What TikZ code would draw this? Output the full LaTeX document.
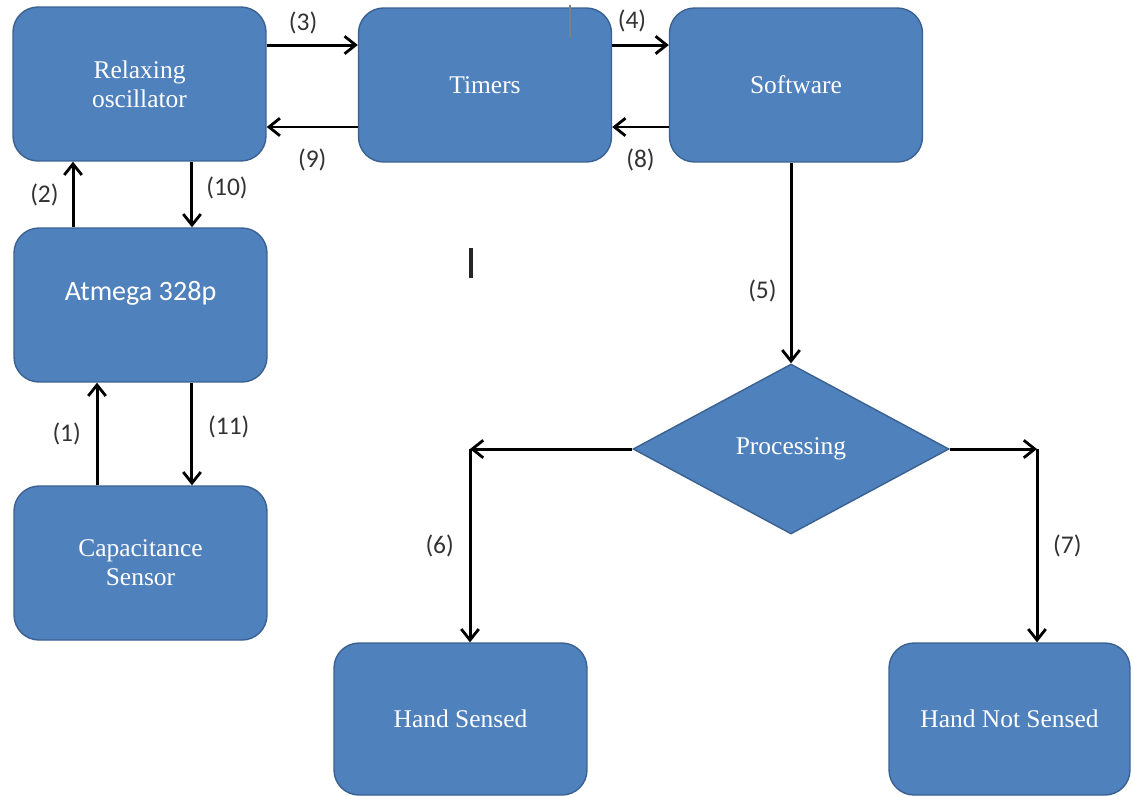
\documentclass[tikz,border=0pt]{standalone}
\usepackage{fontspec}
\setmainfont{Liberation Serif}
\newfontfamily\calibri{Carlito}
\usetikzlibrary{shapes.geometric,arrows.meta}

\definecolor{boxblue}{HTML}{4F81BD}
\definecolor{boxline}{HTML}{3A6192}

\begin{document}
\begin{tikzpicture}[x=0.02cm,y=-0.02cm,
	block/.style={draw=boxline,line width=0.8pt,fill=boxblue,rounded corners=0.5cm,
		minimum width=5.06cm,minimum height=3.08cm,text=white,align=center,
		font=\fontsize{14.5}{16.5}\selectfont},
	decision/.style={diamond,draw=boxline,line width=0.8pt,fill=boxblue,inner sep=0pt,
		minimum width=6.32cm,minimum height=3.4cm,text=white,
		font=\fontsize{14.5}{16.5}\selectfont},
	arr/.style={line width=1.7pt,-{Straight Barb[length=2.2mm,width=3.5mm,line width=1.6pt]}},
	num/.style={font=\calibri\fontsize{14.5}{16}\selectfont,text=black!80}]
			\useasboundingbox (0,0) rectangle (1135,796);
			
			% blocks
			\node[block] (osc) at (139.5,84) {Relaxing\\oscillator};
			\node[block] (timers) at (485,85) {Timers};
			\node[block] (soft) at (796,85) {Software};
			\node[block,font=\calibri\fontsize{16}{18}\selectfont,text depth=0.55cm] (atmega) at (140.5,305) {Atmega 328p};
			\node[block] (sensor) at (140.5,563) {Capacitance\\Sensor};
			\node[decision] (proc) at (791,449) {Processing};
			\node[block,minimum height=3.04cm] (sensed) at (460.5,719) {Hand Sensed};
			\node[block,minimum width=4.82cm,minimum height=3.04cm] (notsensed) at (1009.5,719) {Hand Not Sensed};
			
			% corners of the two outputs
			\coordinate (c6) at (470,449);
			\coordinate (c7) at (1037,449);
			
			% top row
			\draw[arr] ([yshift=0.78cm]osc.east) -- ([yshift=0.78cm]timers.west |- osc.east) node[num,pos=0.4,above=2pt] {(3)};
			\draw[arr] ([yshift=-0.84cm]timers.west) -- ([yshift=-0.84cm]osc.east |- timers.west) node[num,midway,below=8pt] {(9)};
			\draw[arr] ([yshift=0.8cm]timers.east) -- ([yshift=0.8cm]soft.west) node[num,pos=0.35,above=3pt] {(4)};
			\draw[arr] ([yshift=-0.84cm]soft.west) -- ([yshift=-0.84cm]timers.east) node[num,midway,below=8pt] {(8)};
			
			% left column
			\draw[arr] ([xshift=-1.35cm]atmega.north) -- ([xshift=-1.35cm]atmega.north |- osc.south) node[num,midway,left=4pt] {(2)};
			\draw[arr] ([xshift=1.05cm]osc.south) -- ([xshift=1.05cm]osc.south |- atmega.north) node[num,midway,right=4pt,yshift=4pt] {(10)};
			\draw[arr] ([xshift=-0.87cm]sensor.north) -- ([xshift=-0.87cm]sensor.north |- atmega.south) node[num,midway,left=5pt] {(1)};
			\draw[arr] ([xshift=1.03cm]atmega.south) -- ([xshift=1.03cm]atmega.south |- sensor.north) node[num,midway,right=5pt,yshift=4pt] {(11)};
			
			% software to the two results
			\draw[arr] (proc.north |- soft.south) -- (proc.north) node[num,pos=0.64,left=4pt] {(5)};
			\draw[arr] (proc.west) -- (c6);
			\draw[arr] (c6) -- (c6 |- sensed.north) node[num,midway,left=5pt] {(6)};
			\draw[arr] (proc.east) -- (c7);
			\draw[arr] (c7) -- (c7 |- notsensed.north) node[num,midway,right=5pt] {(7)};
			
			% stray marks
			\draw[gray,line width=0.8pt] (570,5) -- (570,38);
			\draw[black!85,line width=2.2pt] (471,248) -- (471,278);
\end{tikzpicture}
\end{document}
